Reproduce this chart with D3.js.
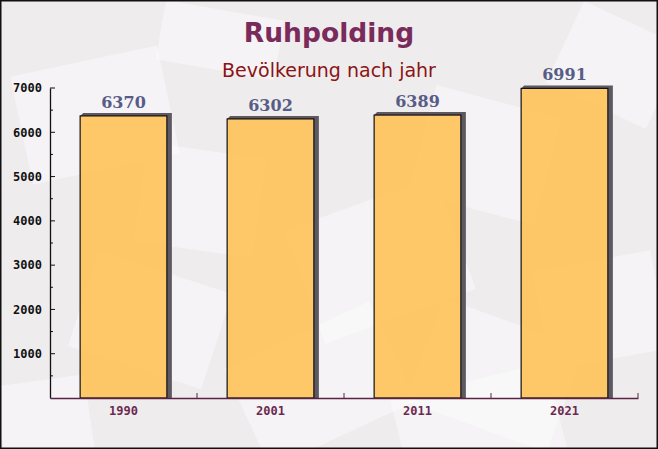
<!DOCTYPE html>
<html><head><meta charset="utf-8">
<script src="https://cdn.jsdelivr.net/npm/d3@7"></script>
<style>html,body{margin:0;padding:0;background:#fff}svg{display:block}</style>
</head><body>
<script>
const categories = ["1990", "2001", "2011", "2021"];
const values = [6370, 6302, 6389, 6991];
const yTicks = [1000, 2000, 3000, 4000, 5000, 6000, 7000];
const title = "Ruhpolding";
const subtitle = "Bevölkerung nach jahr";

(function () {
const W = 658, H = 449;
const svg = d3.select("body").append("svg").attr("width", W).attr("height", H);

// background
svg.append("rect").attr("width", W).attr("height", H).attr("fill", "#efecee");
const deco = [
  [20, 60, 150, 110, -12], [140, 150, 120, 100, 8], [300, 200, 160, 120, -20],
  [420, 100, 130, 110, 15], [540, 260, 120, 100, -10], [80, 270, 140, 100, 18],
  [240, 330, 160, 110, -25], [420, 320, 150, 110, 20], [560, 20, 110, 90, 25],
  [0, 380, 90, 80, -8], [160, 10, 120, 60, 10], [400, 380, 160, 100, -14]
];
svg.append("g").selectAll("rect").data(deco).join("rect")
  .attr("x", d => d[0]).attr("y", d => d[1]).attr("width", d => d[2]).attr("height", d => d[3])
  .attr("transform", d => `rotate(${d[4]},${d[0] + d[2] / 2},${d[1] + d[3] / 2})`)
  .attr("fill", "#ffffff").attr("opacity", 0.4);

const mLeft = 50, mRight = 638, mTop = 88, mBottom = 398;
const x = d3.scaleBand().domain(categories).range([mLeft, mRight]).padding(0);
const y = d3.scaleLinear().domain([0, 7000]).range([mBottom, mTop]);

// bars
const bw = x.bandwidth() * 0.59;
const g = svg.append("g");
const bars = g.selectAll("g.bar").data(categories.map((c, i) => ({c, v: values[i]}))).join("g");
bars.append("path")
  .attr("d", d => {
    const x0 = x(d.c) + (x.bandwidth() - bw) / 2, x1 = x0 + bw, yt = y(d.v), yb = y(0);
    return `M${x0},${yt} L${x0 + 3},${yt - 3} L${x1 + 5},${yt - 3} L${x1 + 5},${yb} L${x1},${yb} L${x1},${yt} Z`;
  })
  .attr("fill", "#5d5862");
bars.append("rect")
  .attr("x", d => x(d.c) + (x.bandwidth() - bw) / 2)
  .attr("y", d => y(d.v))
  .attr("width", bw)
  .attr("height", d => y(0) - y(d.v))
  .attr("fill", "#ffbf4f").attr("fill-opacity", 0.85)
  .attr("stroke", "#111").attr("stroke-width", 1.2);
bars.append("text")
  .attr("x", d => x(d.c) + x.bandwidth() / 2)
  .attr("y", d => y(d.v) - 8)
  .attr("text-anchor", "middle")
  .attr("font-family", "DejaVu Serif, serif").attr("font-weight", "bold").attr("font-size", 16)
  .attr("fill", "#575c86")
  .text(d => d.v);

// y axis
const yAxis = svg.append("g").attr("transform", `translate(${mLeft},0)`)
  .call(d3.axisLeft(y).tickValues(yTicks).tickSize(0).tickPadding(8).tickFormat(d3.format("d")));
yAxis.select(".domain").attr("stroke", "#111").attr("stroke-width", 1.3);
yAxis.selectAll("text").attr("font-family", "DejaVu Sans Mono, monospace").attr("font-weight", "bold")
  .attr("font-size", 12).attr("fill", "#111");
const minor = d3.range(500, 7001, 500);
svg.append("g").selectAll("line").data(minor).join("line")
  .attr("x1", mLeft).attr("x2", d => mLeft + (d % 1000 === 0 ? 5 : 3))
  .attr("y1", d => y(d)).attr("y2", d => y(d)).attr("stroke", "#111");

// x axis
const xAxis = svg.append("g").attr("transform", `translate(0,${mBottom})`)
  .call(d3.axisBottom(x).tickSize(0).tickPadding(8));
xAxis.select(".domain").attr("stroke", "#5a2343").attr("stroke-width", 1.3);
xAxis.selectAll("text").attr("font-family", "DejaVu Sans Mono, monospace").attr("font-weight", "bold")
  .attr("font-size", 12).attr("fill", "#6a2a50");
svg.append("g").selectAll("line").data(categories.slice(1).concat(["end"])).join("line")
  .attr("x1", d => d === "end" ? mRight : x(d)).attr("x2", d => d === "end" ? mRight : x(d))
  .attr("y1", mBottom).attr("y2", mBottom - 5).attr("stroke", "#5a2343");

// titles
svg.append("text").attr("x", W / 2).attr("y", 42).attr("text-anchor", "middle")
  .attr("font-family", "DejaVu Sans, sans-serif").attr("font-weight", "bold").attr("font-size", 26.5)
  .attr("fill", "#7a2b5b").text(title);
svg.append("text").attr("x", W / 2).attr("y", 77).attr("text-anchor", "middle")
  .attr("font-family", "DejaVu Sans, sans-serif").attr("font-size", 19)
  .attr("fill", "#8b1414").text(subtitle);

// frame
svg.append("rect").attr("x", 0.75).attr("y", 0.75).attr("width", W - 1.5).attr("height", H - 1.5)
  .attr("fill", "none").attr("stroke", "#111").attr("stroke-width", 1.5);
})();
</script>
</body></html>
